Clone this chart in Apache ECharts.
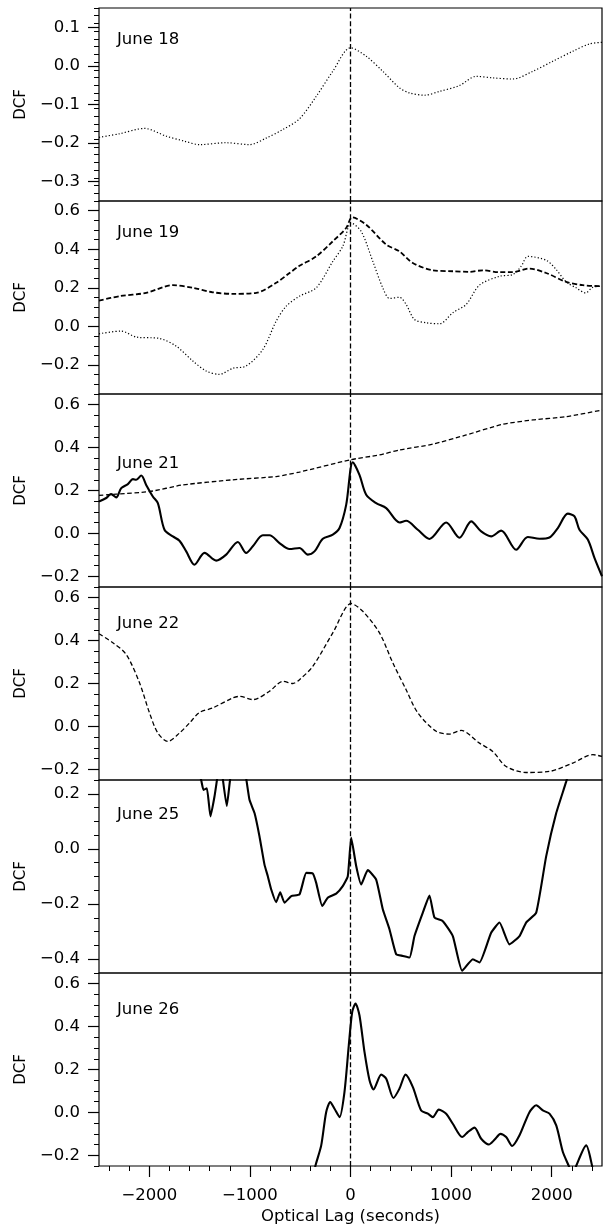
<!DOCTYPE html>
<html><head><meta charset="utf-8">
<script src="https://cdn.jsdelivr.net/npm/echarts@6/dist/echarts.min.js"></script>
<style>html,body{margin:0;padding:0;background:#fff}#c{width:603px;height:1226px}</style>
</head><body><div id="c"></div>
<script>
// ---------------- data ----------------
const lag18 = [-2500, -2300, -2048, -1832, -1650, -1500, -1236, -1004, -838, -673, -507, -341, -176, 0, 156, 321, 487, 587, 736, 885, 1083, 1249, 1414, 1613, 1812, 2011, 2210, 2376, 2500];
const dcf18 = [-0.185, -0.176, -0.162, -0.182, -0.195, -0.204, -0.199, -0.204, -0.187, -0.165, -0.137, -0.079, -0.014, 0.047, 0.025, -0.014, -0.057, -0.07, -0.076, -0.066, -0.051, -0.027, -0.031, -0.034, -0.014, 0.012, 0.038, 0.057, 0.061];

const lag19a = [-2500, -2296, -2031, -1766, -1567, -1369, -1170, -937, -739, -606, -507, -341, -176, -43, 17, 156, 355, 487, 619, 818, 1017, 1183, 1315, 1481, 1613, 1779, 1945, 2144, 2309, 2500];
const dcf19a = [0.134, 0.157, 0.174, 0.214, 0.2, 0.177, 0.169, 0.174, 0.226, 0.277, 0.314, 0.363, 0.441, 0.51, 0.565, 0.527, 0.424, 0.389, 0.329, 0.291, 0.286, 0.283, 0.291, 0.281, 0.281, 0.3, 0.277, 0.231, 0.214, 0.208];

const lag19b = [-2500, -2279, -2130, -1899, -1733, -1567, -1434, -1302, -1170, -1037, -871, -739, -639, -507, -341, -176, -77, 7, 106, 222, 321, 388, 487, 553, 636, 752, 885, 1017, 1150, 1282, 1481, 1613, 1697, 1762, 1945, 2045, 2144, 2243, 2336, 2409, 2500];
const dcf19b = [-0.038, -0.024, -0.055, -0.062, -0.102, -0.179, -0.231, -0.248, -0.217, -0.205, -0.119, 0.027, 0.105, 0.157, 0.2, 0.337, 0.415, 0.536, 0.493, 0.337, 0.2, 0.145, 0.151, 0.114, 0.036, 0.019, 0.014, 0.071, 0.114, 0.214, 0.26, 0.269, 0.312, 0.363, 0.343, 0.295, 0.231, 0.2, 0.174, 0.203, 0.208];

const lag21a = [-2500, -2428, -2395, -2379, -2329, -2279, -2213, -2163, -2130, -2080, -2031, -1965, -1915, -1849, -1766, -1700, -1633, -1551, -1451, -1335, -1236, -1120, -1037, -971, -872, -805, -706, -606, -507, -424, -358, -275, -176, -109, -43, 23, 89, 156, 255, 355, 487, 553, 669, 785, 951, 1083, 1200, 1299, 1398, 1498, 1647, 1762, 1879, 1978, 2061, 2160, 2227, 2276, 2359, 2425, 2500];
const dcf21a = [0.149, 0.165, 0.18, 0.183, 0.168, 0.211, 0.23, 0.253, 0.25, 0.27, 0.226, 0.172, 0.141, 0.017, -0.014, -0.034, -0.084, -0.146, -0.091, -0.127, -0.099, -0.04, -0.091, -0.06, -0.009, -0.009, -0.045, -0.073, -0.068, -0.099, -0.084, -0.025, -0.006, 0.025, 0.133, 0.332, 0.273, 0.18, 0.141, 0.118, 0.051, 0.059, 0.017, -0.026, 0.051, -0.02, 0.056, 0.009, -0.014, 0.013, -0.076, -0.017, -0.025, -0.019, 0.025, 0.092, 0.079, 0.017, -0.029, -0.114, -0.2];

const lag21b = [-2500, -2329, -1998, -1667, -1170, -739, -507, -5, 288, 487, 818, 1150, 1514, 1812, 2144, 2500];
const dcf21b = [0.177, 0.183, 0.195, 0.226, 0.25, 0.265, 0.286, 0.343, 0.366, 0.389, 0.416, 0.459, 0.509, 0.529, 0.544, 0.575];

const lag22 = [-2500, -2362, -2229, -2097, -1998, -1915, -1816, -1700, -1600, -1501, -1369, -1170, -1103, -971, -805, -673, -573, -507, -375, -176, 7, 122, 288, 421, 553, 669, 852, 984, 1100, 1282, 1414, 1547, 1746, 1978, 2210, 2409, 2500];
const dcf22 = [0.432, 0.39, 0.335, 0.203, 0.063, -0.031, -0.07, -0.031, 0.016, 0.065, 0.086, 0.133, 0.14, 0.125, 0.164, 0.21, 0.2, 0.218, 0.28, 0.436, 0.573, 0.537, 0.436, 0.296, 0.171, 0.063, -0.023, -0.036, -0.019, -0.078, -0.117, -0.187, -0.215, -0.21, -0.171, -0.132, -0.14];

const lag25 = [-1560, -1484, -1461, -1428, -1392, -1352, -1319, -1292, -1275, -1230, -1190, -1120, -1044, -1004, -954, -905, -855, -822, -788, -739, -699, -656, -589, -507, -440, -375, -341, -281, -226, -142, -77, -27, 7, 57, 106, 172, 255, 321, 388, 454, 520, 587, 636, 719, 785, 835, 918, 1017, 1110, 1216, 1282, 1398, 1481, 1580, 1680, 1746, 1846, 1945, 2045, 2144, 2220];
const dcf25 = [0.34, 0.249, 0.214, 0.22, 0.118, 0.19, 0.27, 0.32, 0.27, 0.156, 0.27, 0.36, 0.27, 0.178, 0.13, 0.046, -0.057, -0.099, -0.147, -0.193, -0.157, -0.195, -0.171, -0.165, -0.087, -0.089, -0.123, -0.207, -0.177, -0.162, -0.135, -0.099, 0.04, -0.063, -0.129, -0.077, -0.111, -0.219, -0.292, -0.382, -0.388, -0.394, -0.316, -0.231, -0.169, -0.249, -0.262, -0.316, -0.442, -0.4, -0.412, -0.304, -0.267, -0.346, -0.316, -0.267, -0.231, -0.027, 0.13, 0.244, 0.34];

const lag26 = [-380, -348, -291, -242, -202, -159, -109, -60, -17, 17, 50, 89, 139, 189, 229, 305, 355, 427, 487, 547, 620, 702, 769, 818, 878, 951, 1017, 1110, 1166, 1233, 1299, 1375, 1431, 1491, 1547, 1607, 1680, 1779, 1846, 1912, 1978, 2045, 2111, 2170, 2205, 2243, 2343, 2402, 2420];
const dcf26 = [-0.32, -0.248, -0.154, 0.001, 0.048, 0.017, -0.022, 0.095, 0.313, 0.469, 0.508, 0.453, 0.282, 0.15, 0.107, 0.176, 0.157, 0.067, 0.111, 0.176, 0.118, 0.009, -0.006, -0.022, 0.013, -0.006, -0.053, -0.115, -0.092, -0.071, -0.123, -0.15, -0.128, -0.1, -0.115, -0.157, -0.107, 0.001, 0.033, 0.009, -0.006, -0.061, -0.185, -0.25, -0.3, -0.25, -0.154, -0.25, -0.3];

const dayLabels = ['June 18', 'June 19', 'June 21', 'June 22', 'June 25', 'June 26'];
const yTicks18 = [-0.3, -0.2, -0.1, 0.0, 0.1];
const yTicksA = [-0.2, 0.0, 0.2, 0.4, 0.6];
const yTicks25 = [-0.4, -0.2, 0.0, 0.2];
const xTicks = [-2000, -1000, 0, 1000, 2000];
const xLabel = 'Optical Lag (seconds)';
const yLabel = 'DCF';

// ---------------- styling / layout ----------------
const FONT = 'DejaVu Sans';
const INK = '#000';
const TOPS = [8, 201, 394, 587, 780, 973];
const PH = 193;
const LEFT = 99, RIGHT = 1;

const ST = {
  dotted:     { color: INK, width: 1.2, type: [1.2, 2.1] },
  dashedBold: { color: INK, width: 1.8, type: [5, 2.5] },
  dashed:     { color: INK, width: 1.3, type: [4.5, 2.6] },
  solid:      { color: INK, width: 2.1, type: 'solid' }
};

function zip(xs, ys) { return xs.map((x, i) => [x, ys[i]]); }
function minors(min, max, step, majors) {
  const out = [];
  const n = Math.round((max - min) / step);
  for (let i = 0; i <= n; i++) {
    const v = Math.round((min + i * step) * 1000) / 1000;
    if (!majors.some(m => Math.abs(m - v) < 1e-6)) out.push(v);
  }
  return out;
}
function fmt(v) { return (Math.abs(v) < 1e-9 ? '0.0' : v.toFixed(1)).replace('-', '\u2212'); }
function fmtX(v) { return String(v).replace('-', '\u2212'); }

const panels = [
  { min: -0.35, max: 0.15, ticks: yTicks18, minorStep: 0.02, labelY: 41,
    series: [{ d: zip(lag18, dcf18), s: 'dotted', sm: 0.3 }] },
  { min: -0.35, max: 0.65, ticks: yTicksA, minorStep: 0.05, labelY: 234,
    series: [{ d: zip(lag19a, dcf19a), s: 'dashedBold', sm: 0.3 }, { d: zip(lag19b, dcf19b), s: 'dotted', sm: 0.3 }] },
  { min: -0.25, max: 0.65, ticks: yTicksA, minorStep: 0.05, labelY: 465,
    series: [{ d: zip(lag21a, dcf21a), s: 'solid', sm: 0.3 }, { d: zip(lag21b, dcf21b), s: 'dashed', sm: 0.2 }] },
  { min: -0.25, max: 0.65, ticks: yTicksA, minorStep: 0.05, labelY: 625,
    series: [{ d: zip(lag22, dcf22), s: 'dashed', sm: 0.3 }] },
  { min: -0.45, max: 0.25, ticks: yTicks25, minorStep: 0.05, labelY: 816,
    series: [{ d: zip(lag25, dcf25), s: 'solid', sm: 0.15 }] },
  { min: -0.25, max: 0.65, ticks: yTicksA, minorStep: 0.05, labelY: 1011,
    series: [{ d: zip(lag26, dcf26), s: 'solid', sm: 0.25 }] }
];

const grid = [], xAxis = [], yAxis = [], series = [], graphic = [];
const textStyle = { fontFamily: FONT, color: INK };
const noLine = { show: false, onZero: false };

panels.forEach((p, i) => {
  const last = i === panels.length - 1;
  grid.push({ left: LEFT, right: RIGHT, top: TOPS[i], height: PH, show: true,
              borderColor: INK, borderWidth: 1.2, backgroundColor: 'transparent' });
  // x axes (major + minor)
  xAxis.push({
    type: 'value', gridIndex: i, min: -2500, max: 2500, position: 'bottom', offset: 0,
    axisLine: noLine, splitLine: { show: false },
    axisTick: { show: last, length: 11, lineStyle: { color: INK, width: 1.2 }, customValues: xTicks },
    axisLabel: { show: last, margin: 21, fontSize: 16.5, fontFamily: FONT, color: INK,
                 customValues: xTicks, formatter: fmtX },
    name: last ? xLabel : '', nameLocation: 'middle', nameGap: 42,
    nameTextStyle: { fontSize: 16.5, fontFamily: FONT, color: INK }
  });
  xAxis.push({
    type: 'value', gridIndex: i, min: -2500, max: 2500, position: 'bottom', offset: 0,
    axisLine: noLine, splitLine: { show: false },
    axisTick: { show: last, length: 5, lineStyle: { color: INK, width: 1 },
                customValues: minors(-2400, 2400, 200, xTicks) },
    axisLabel: { show: false }
  });
  // y axes (major + minor)
  yAxis.push({
    type: 'value', gridIndex: i, min: p.min, max: p.max, position: 'left', offset: 0,
    axisLine: noLine, splitLine: { show: false },
    axisTick: { show: true, length: 11, lineStyle: { color: INK, width: 1.2 }, customValues: p.ticks },
    axisLabel: { show: true, margin: 19, fontSize: 16.5, fontFamily: FONT, color: INK,
                 customValues: p.ticks, formatter: fmt },
    name: yLabel, nameLocation: 'middle', nameRotate: 90, nameGap: 69,
    nameTextStyle: { fontSize: 15, fontFamily: FONT, color: INK }
  });
  yAxis.push({
    type: 'value', gridIndex: i, min: p.min, max: p.max, position: 'left', offset: 0,
    axisLine: noLine, splitLine: { show: false },
    axisTick: { show: true, length: 5, lineStyle: { color: INK, width: 1 },
                customValues: minors(p.min, p.max, p.minorStep, p.ticks) },
    axisLabel: { show: false }
  });
  p.series.forEach((s, k) => {
    const ser = {
      type: 'line', xAxisIndex: 2 * i, yAxisIndex: 2 * i, data: s.d,
      showSymbol: false, symbol: 'none', smooth: s.sm, clip: true,
      lineStyle: ST[s.s], silent: true, z: 3
    };
    if (k === 0) {
      ser.markLine = {
        silent: true, symbol: 'none', animation: false, label: { show: false },
        lineStyle: { color: INK, width: 1.3, type: [5, 2.6] },
        data: [{ xAxis: 0 }]
      };
    }
    series.push(ser);
  });
  graphic.push({
    type: 'text', left: 117, top: p.labelY - 10,
    style: { text: dayLabels[i], font: '16.5px "DejaVu Sans"', fill: INK }
  });
});

const chart = echarts.init(document.getElementById('c'), null, { renderer: 'canvas' });
chart.setOption({
  animation: false, backgroundColor: '#fff', textStyle,
  grid, xAxis, yAxis, series, graphic
});
</script>
</body></html>
